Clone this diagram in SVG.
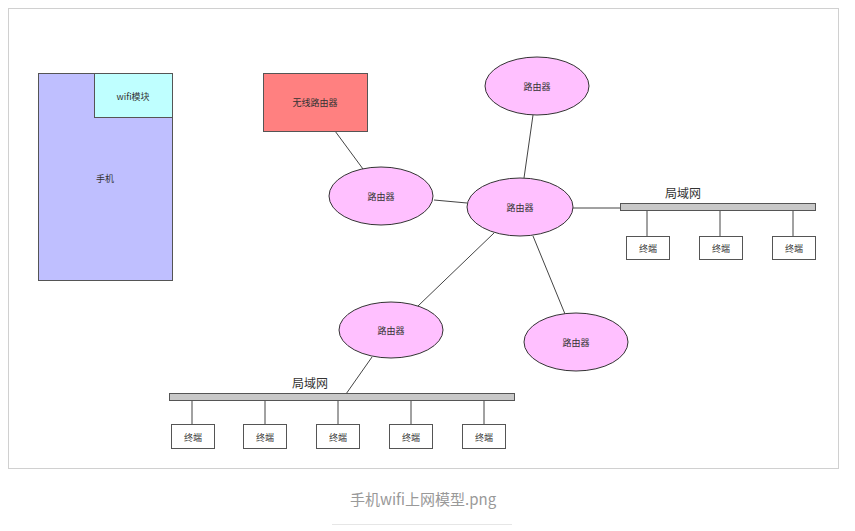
<svg xmlns="http://www.w3.org/2000/svg" width="855" height="531" viewBox="0 0 855 531">
<style>
text{font-family:"Noto Sans CJK SC","Liberation Sans",sans-serif;fill:#333;text-anchor:middle;dominant-baseline:central}
.s{font-size:9px}
.lan{font-size:12px}
.router{fill:#ffc0ff;stroke:#333;stroke-width:1}
.term{fill:#fff;stroke:#555;stroke-width:1}
.bar{fill:#c8c8c8;stroke:#555;stroke-width:1}
.conn line{stroke:#444;stroke-width:1}
</style>
<rect width="855" height="531" fill="#fff"/>
<rect x="8.5" y="8.5" width="830" height="460" fill="#fff" stroke="#d0d0d0"/>
<g class="conn" id="connectors">
<line x1="335" y1="131" x2="363" y2="169"/>
<line x1="434" y1="200" x2="467" y2="203"/>
<line x1="533" y1="115" x2="524" y2="178"/>
<line x1="573" y1="208" x2="620" y2="208"/>
<line x1="494" y1="233" x2="418" y2="306"/>
<line x1="533" y1="236" x2="565" y2="314"/>
<line x1="372" y1="357" x2="346" y2="394"/>
<line x1="647" y1="211" x2="647" y2="236"/>
<line x1="720" y1="211" x2="720" y2="236"/>
<line x1="793" y1="211" x2="793" y2="236"/>
<line x1="192" y1="400" x2="192" y2="424"/>
<line x1="265" y1="400" x2="265" y2="424"/>
<line x1="338" y1="400" x2="338" y2="424"/>
<line x1="411" y1="400" x2="411" y2="424"/>
<line x1="484" y1="400" x2="484" y2="424"/>
</g>
<g id="phone">
<rect x="38.5" y="73.5" width="134" height="207" fill="#bfbfff" stroke="#555"/>
<text class="s" x="105" y="178">手机</text>
</g>
<g id="wifi-module">
<rect x="94.5" y="73.5" width="78" height="44" fill="#bfffff" stroke="#555"/>
<text class="s" x="133" y="96">wifi模块</text>
</g>
<g id="wireless-router">
<rect x="263.5" y="73.5" width="104" height="58" fill="#ff8080" stroke="#555"/>
<text class="s" x="315" y="102">无线路由器</text>
</g>
<g id="router-top">
<ellipse class="router" cx="537" cy="86" rx="52" ry="29"/>
<text class="s" x="537" y="86">路由器</text>
</g>
<g id="router-left">
<ellipse class="router" cx="381" cy="196" rx="52" ry="29"/>
<text class="s" x="381" y="196">路由器</text>
</g>
<g id="router-center">
<ellipse class="router" cx="520" cy="207" rx="53" ry="29"/>
<text class="s" x="520" y="207">路由器</text>
</g>
<g id="router-bottom-left">
<ellipse class="router" cx="391" cy="330" rx="52" ry="28"/>
<text class="s" x="391" y="330">路由器</text>
</g>
<g id="router-bottom-right">
<ellipse class="router" cx="576" cy="342" rx="52" ry="29"/>
<text class="s" x="576" y="342">路由器</text>
</g>
<g id="lan-right">
<rect class="bar" x="620.5" y="203.5" width="195" height="7"/>
<text class="lan" x="683" y="192">局域网</text>
</g>
<g id="term-r1"><rect class="term" x="626.5" y="236.5" width="43" height="23"/><text class="s" x="648" y="248">终端</text></g>
<g id="term-r2"><rect class="term" x="699.5" y="236.5" width="43" height="23"/><text class="s" x="721" y="248">终端</text></g>
<g id="term-r3"><rect class="term" x="772.5" y="236.5" width="43" height="23"/><text class="s" x="794" y="248">终端</text></g>
<g id="lan-bottom">
<rect class="bar" x="169.5" y="393.5" width="345" height="7"/>
<text class="lan" x="310" y="382">局域网</text>
</g>
<g id="term-b1"><rect class="term" x="171.5" y="424.5" width="43" height="24"/><text class="s" x="193" y="437">终端</text></g>
<g id="term-b2"><rect class="term" x="243.5" y="424.5" width="43" height="24"/><text class="s" x="265" y="437">终端</text></g>
<g id="term-b3"><rect class="term" x="316.5" y="424.5" width="43" height="24"/><text class="s" x="338" y="437">终端</text></g>
<g id="term-b4"><rect class="term" x="389.5" y="424.5" width="43" height="24"/><text class="s" x="411" y="437">终端</text></g>
<g id="term-b5"><rect class="term" x="462.5" y="424.5" width="43" height="24"/><text class="s" x="484" y="437">终端</text></g>
<text x="423" y="498" style="font-size:15px;fill:#999">手机wifi上网模型.png</text>
<line x1="332" y1="524.5" x2="512" y2="524.5" stroke="#e6e6e6"/>
</svg>
